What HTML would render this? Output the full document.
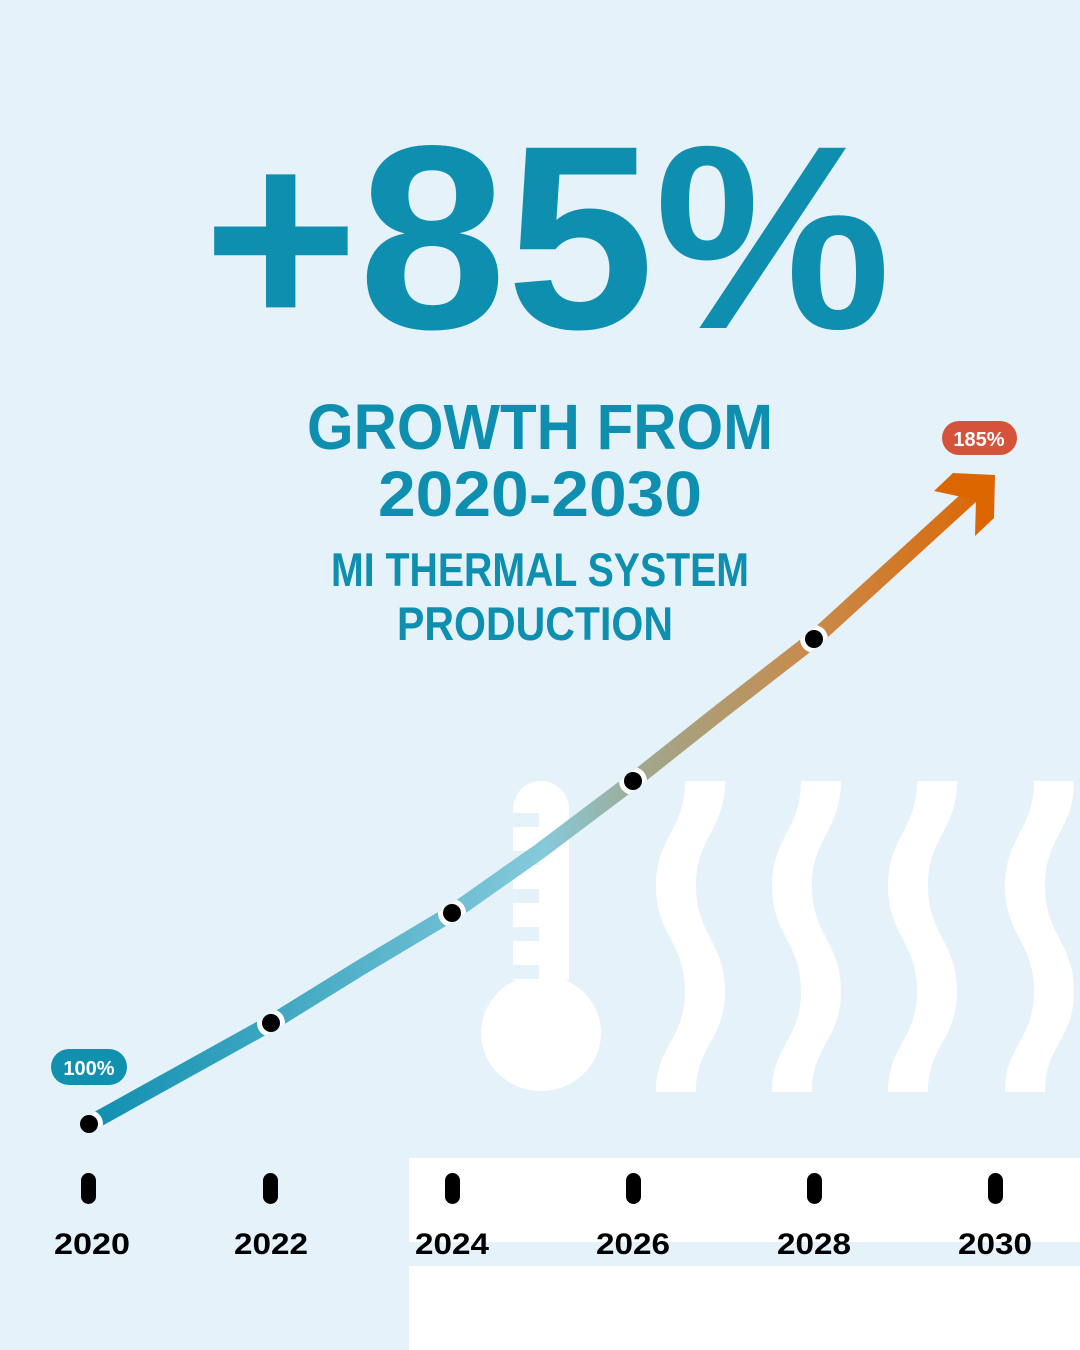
<!DOCTYPE html>
<html><head><meta charset="utf-8"><style>
html,body{margin:0;padding:0;background:#e5f2fa;}
svg{display:block;}
text{font-family:"Liberation Sans",sans-serif;font-weight:bold;}
</style></head><body>
<svg width="1080" height="1350" viewBox="0 0 1080 1350" xmlns="http://www.w3.org/2000/svg">
<defs>
<linearGradient id="g" gradientUnits="userSpaceOnUse" x1="89" y1="0" x2="1000" y2="0">
<stop offset="0" stop-color="#0f8fb0"/>
<stop offset="0.5" stop-color="#85cadb"/>
<stop offset="0.62" stop-color="#a3a588"/>
<stop offset="0.8" stop-color="#c98948"/>
<stop offset="1" stop-color="#dd6500"/>
</linearGradient>
<mask id="lm" maskUnits="userSpaceOnUse" x="0" y="0" width="1080" height="1350">
<polyline points="89,1124 271,1023 360,968 452,913 540,851 633,781 720,712 814,639 975,492" fill="none" stroke="#fff" stroke-width="16"/>
</mask>
<path id="wave" d="M685,781 C685,830 656,837 656,886 C656,935 685,942 685,991 C685,1040 656,1045 656,1092 L696,1092 C696,1045 725,1040 725,991 C725,942 696,935 696,886 C696,837 725,830 725,781 Z" fill="#fff"/>
</defs>
<rect width="1080" height="1350" fill="#e5f2fa"/>
<rect x="409" y="1158" width="671" height="84" fill="#fff"/>
<rect x="409" y="1266" width="671" height="84" fill="#fff"/>
<path d="M513,809 a28,28 0 0 1 56,0 V980 H513 Z" fill="#fff"/>
<ellipse cx="541" cy="1033" rx="60" ry="58" fill="#fff"/>
<g fill="#e5f2fa">
<rect x="513" y="813" width="26" height="14"/>
<rect x="513" y="851" width="26" height="14"/>
<rect x="513" y="889" width="26" height="14"/>
<rect x="513" y="927" width="26" height="14"/>
<rect x="513" y="965" width="26" height="14"/>
</g>
<use href="#wave"/>
<use href="#wave" transform="translate(116,0)"/>
<use href="#wave" transform="translate(232,0)"/>
<use href="#wave" transform="translate(349,0)"/>
<text x="203" y="328" font-size="262" fill="#0e8fb0" textLength="688" lengthAdjust="spacingAndGlyphs">+85%</text>
<text x="307" y="449" font-size="64" fill="#0e8fb0" textLength="466" lengthAdjust="spacingAndGlyphs">GROWTH FROM</text>
<text x="378" y="516" font-size="64" fill="#0e8fb0" textLength="324" lengthAdjust="spacingAndGlyphs">2020-2030</text>
<text x="331" y="586" font-size="47" fill="#0e8fb0" textLength="418" lengthAdjust="spacingAndGlyphs">MI THERMAL SYSTEM</text>
<text x="397" y="640" font-size="47" fill="#0e8fb0" textLength="276" lengthAdjust="spacingAndGlyphs">PRODUCTION</text>
<polyline points="89,1124 271,1023 360,968 452,913 540,851 633,781 720,712 814,639 975,492" fill="none" stroke="url(#g)" stroke-width="16"/>
<polygon points="934,491 953,473 995,475 994,518 975,536 976,500" fill="#dc6600"/>
<g mask="url(#lm)" fill="#fff">
<circle cx="89" cy="1124" r="14"/><circle cx="271" cy="1023" r="14"/><circle cx="452" cy="913" r="14"/>
<circle cx="633" cy="781" r="14"/><circle cx="814" cy="639" r="14"/>
</g>
<g fill="#000">
<circle cx="89" cy="1124" r="9"/><circle cx="271" cy="1023" r="9"/><circle cx="452" cy="913" r="9"/>
<circle cx="633" cy="781" r="9"/><circle cx="814" cy="639" r="9"/>
</g>
<rect x="51" y="1049" width="76" height="36" rx="18" fill="#1190b0"/>
<text x="89" y="1075" font-size="20" fill="#fff" text-anchor="middle">100%</text>
<rect x="942" y="421" width="75" height="34" rx="17" fill="#d5533a"/>
<text x="979" y="446" font-size="20" fill="#fff" text-anchor="middle">185%</text>
<g fill="#000">
<rect x="81" y="1173" width="15" height="31" rx="7.5"/>
<rect x="263" y="1173" width="15" height="31" rx="7.5"/>
<rect x="445" y="1173" width="15" height="31" rx="7.5"/>
<rect x="626" y="1173" width="15" height="31" rx="7.5"/>
<rect x="807" y="1173" width="15" height="31" rx="7.5"/>
<rect x="988" y="1173" width="15" height="31" rx="7.5"/>
</g>
<g font-size="30" fill="#000" text-anchor="middle">
<text x="92" y="1254" textLength="76" lengthAdjust="spacingAndGlyphs">2020</text>
<text x="271" y="1254" textLength="74" lengthAdjust="spacingAndGlyphs">2022</text>
<text x="452" y="1254" textLength="74" lengthAdjust="spacingAndGlyphs">2024</text>
<text x="633" y="1254" textLength="74" lengthAdjust="spacingAndGlyphs">2026</text>
<text x="814" y="1254" textLength="74" lengthAdjust="spacingAndGlyphs">2028</text>
<text x="995" y="1254" textLength="74" lengthAdjust="spacingAndGlyphs">2030</text>
</g>
</svg>
</body></html>
